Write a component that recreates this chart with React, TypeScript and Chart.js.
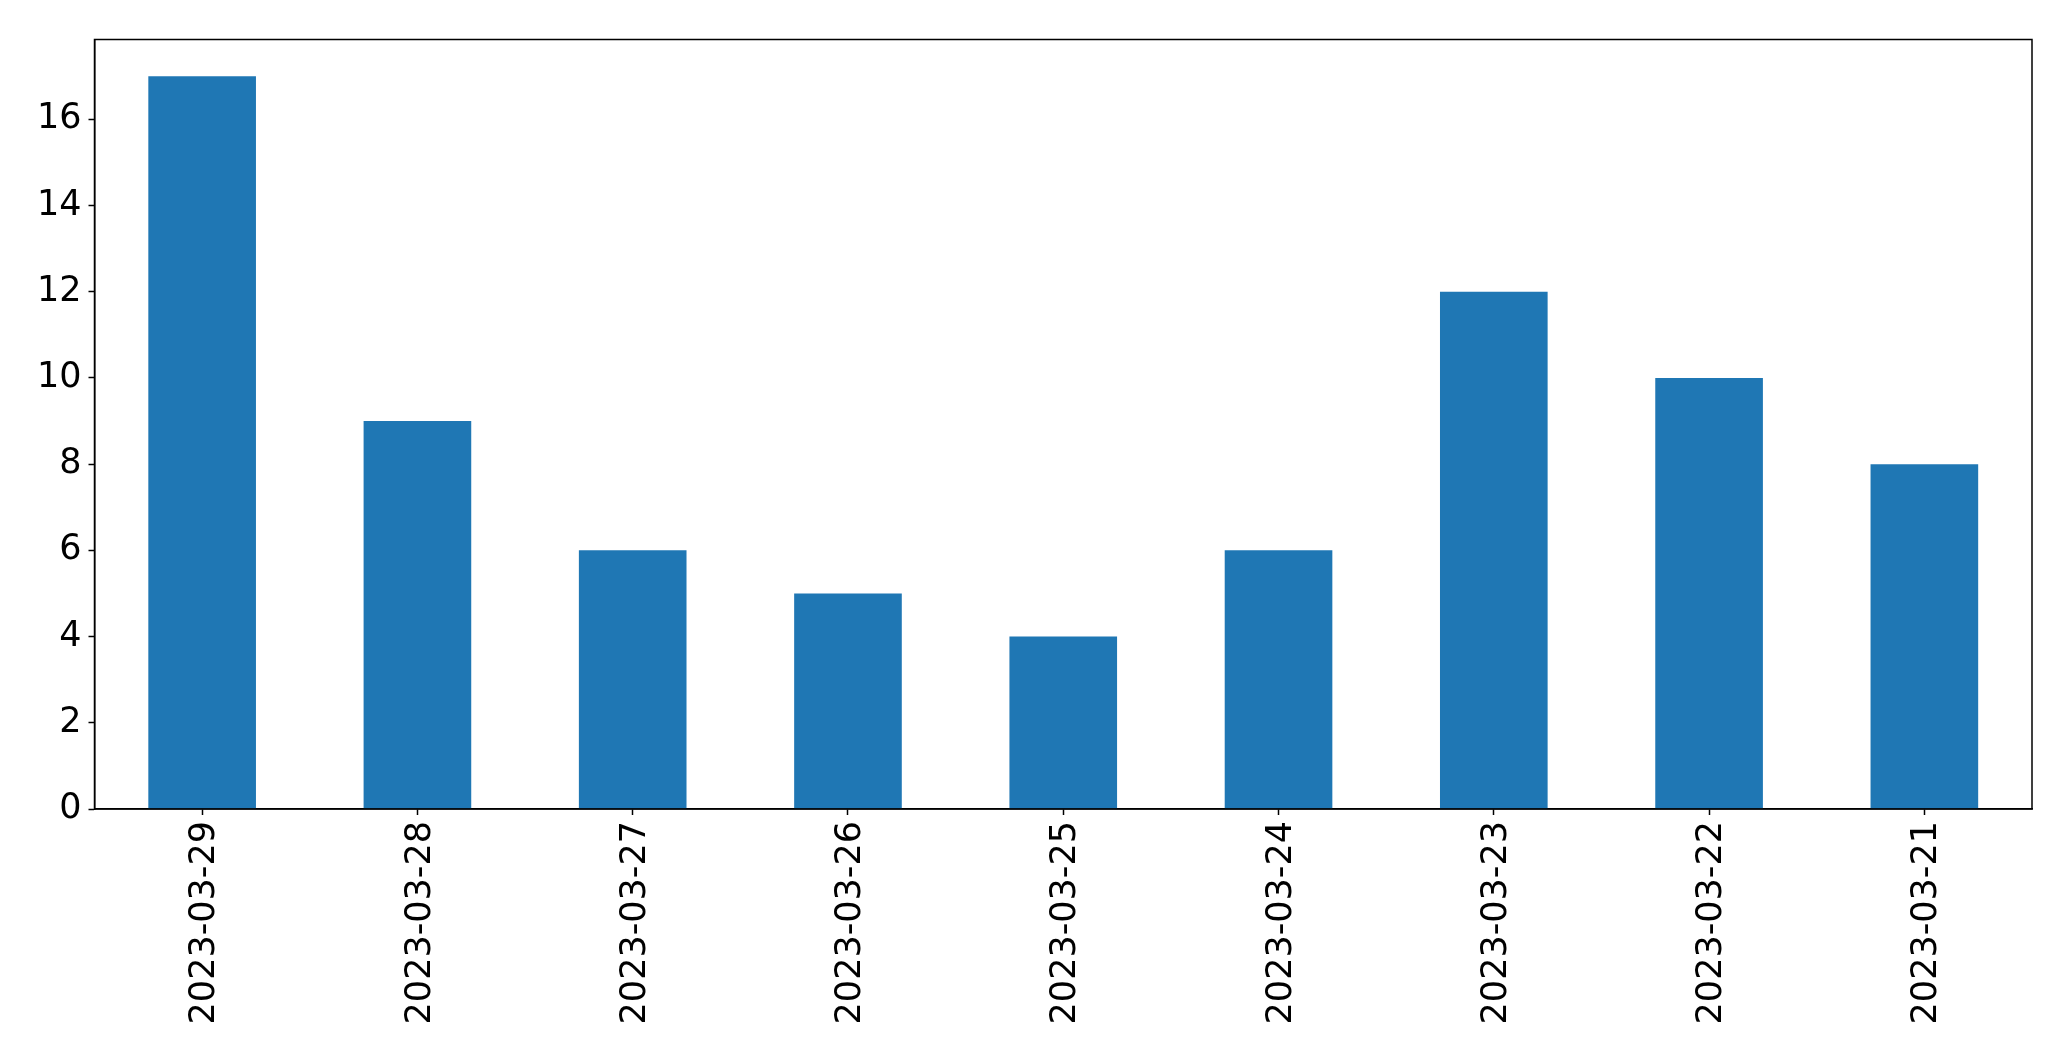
import React, { useEffect, useRef } from "react";
import { Chart, registerables } from "chart.js";

Chart.register(...registerables);

const categories = [
  "2023-03-29",
  "2023-03-28",
  "2023-03-27",
  "2023-03-26",
  "2023-03-25",
  "2023-03-24",
  "2023-03-23",
  "2023-03-22",
  "2023-03-21",
];
const values = [17, 9, 6, 5, 4, 6, 12, 10, 8];
const yTicks = [0, 2, 4, 6, 8, 10, 12, 14, 16];
const yMax = 17.85;

const W = 2071;
const H = 1061;

const framePlugin = {
  id: "frame",
  afterDraw(chart: any) {
    const { ctx, chartArea } = chart;
    ctx.save();
    ctx.strokeStyle = "#000";
    ctx.lineWidth = 1.5;
    ctx.strokeRect(chartArea.left, chartArea.top, chartArea.right - chartArea.left, chartArea.bottom - chartArea.top);
    ctx.restore();
  },
};

export default function App() {
  const ref = useRef<HTMLCanvasElement | null>(null);
  useEffect(() => {
    document.body.style.margin = "0";
    const font = { family: "'DejaVu Sans', sans-serif", size: 35 };
    const chart = new Chart(ref.current!, {
      type: "bar",
      data: {
        labels: categories,
        datasets: [
          {
            data: values,
            backgroundColor: "#1f77b4",
            borderWidth: 0,
            barPercentage: 0.5,
            categoryPercentage: 1,
          },
        ],
      },
      options: {
        animation: false,
        responsive: false,
        devicePixelRatio: 1,
        layout: { padding: { left: 0, top: 39.5, right: 39, bottom: 0 } },
        plugins: { legend: { display: false }, tooltip: { enabled: false } },
        scales: {
          x: {
            offset: true,
            grid: { display: true, offset: false, drawOnChartArea: false, tickLength: 6, tickColor: "#000", tickWidth: 1.5 },
            border: { display: true, color: "#000", width: 1.5 },
            ticks: { color: "#000", font, maxRotation: 90, minRotation: 90, padding: 6, autoSkip: false, labelOffset: 3 },
            afterFit: (s: any) => {
              s.height = 252;
            },
          },
          y: {
            min: 0,
            max: yMax,
            grid: { display: true, drawOnChartArea: false, tickLength: 6, tickColor: "#000", tickWidth: 1.5 },
            border: { display: true, color: "#000", width: 1.5 },
            ticks: { color: "#000", font, padding: 7 },
            afterBuildTicks: (s: any) => {
              s.ticks = yTicks.map((v) => ({ value: v }));
            },
            afterFit: (s: any) => {
              s.width = 94.5;
            },
          },
        },
      },
      plugins: [framePlugin],
    });
    return () => chart.destroy();
  }, []);
  return (
    <div style={{ position: "fixed", left: 0, top: 0, width: W, height: H, background: "#fff" }}>
      <canvas ref={ref} width={W} height={H} style={{ width: W, height: H, display: "block" }} />
    </div>
  );
}
